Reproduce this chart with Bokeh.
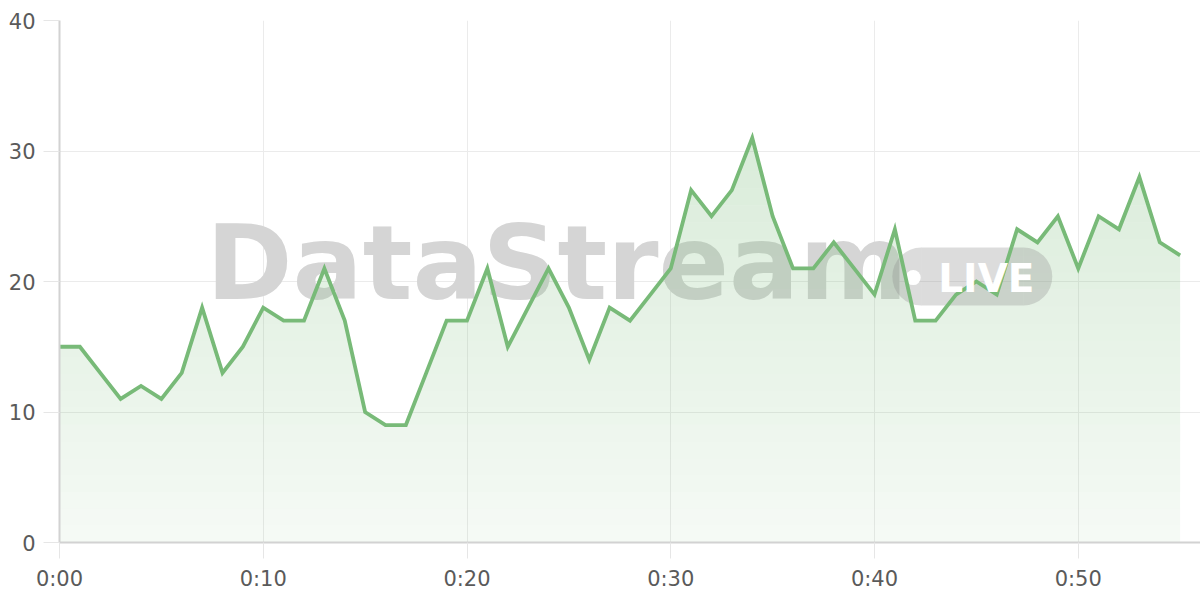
import numpy as np
from bokeh.plotting import figure
from bokeh.models import Range1d, FixedTicker, Label
from bokeh.embed import file_html
from bokeh.resources import INLINE

# ---- data ----
minutes = list(range(0, 56))
values = [15, 15, 13, 11, 12, 11, 13, 18, 13, 15,
          18, 17, 17, 21, 17, 10, 9, 9, 13, 17,
          17, 21, 15, 18, 21, 18, 14, 18, 17, 19,
          21, 27, 25, 27, 31, 25, 21, 21, 23, 21,
          19, 24, 17, 17, 19, 20, 19, 24, 23, 25,
          21, 25, 24, 28, 23, 22]
x_ticks = [0, 10, 20, 30, 40, 50]
x_tick_labels = ["0:00", "0:10", "0:20", "0:30", "0:40", "0:50"]
y_ticks = [0, 10, 20, 30, 40]
watermark_text = "DataStream"
badge_text = "LIVE"

LINE = "#78ba78"
FONT = "DejaVu Sans"

p = figure(width=1200, height=600, output_backend="svg", toolbar_location=None,
           x_range=Range1d(0, 56.0), y_range=Range1d(0, 40),
           min_border_left=59, min_border_top=20, min_border_bottom=58,
           min_border_right=0)
p.outline_line_color = None
p.background_fill_color = "white"
p.border_fill_color = "white"

# grid
p.xgrid.ticker = FixedTicker(ticks=x_ticks)
p.ygrid.ticker = FixedTicker(ticks=y_ticks)
for g in (p.xgrid, p.ygrid):
    g.grid_line_color = "#ebebeb"
    g.grid_line_width = 1

# axes
p.xaxis.ticker = FixedTicker(ticks=x_ticks)
p.xaxis.major_label_overrides = {t: l for t, l in zip(x_ticks, x_tick_labels)}
p.yaxis.ticker = FixedTicker(ticks=y_ticks)
for ax in (p.xaxis, p.yaxis):
    ax.axis_line_color = "#d2d2d2"
    ax.axis_line_width = 2
    ax.major_tick_line_color = "#e6e6e6"
    ax.major_tick_line_width = 1
    ax.major_tick_in = 0
    ax.major_tick_out = 16
    ax.minor_tick_line_color = None
    ax.major_label_text_font = FONT
    ax.major_label_text_font_size = "21px"
    ax.major_label_text_color = "#5a5a5a"
    ax.major_label_standoff = 8

# watermark (opaque light grey, underneath fill and line)
wm = Label(x=7.2, y=21.4, text=watermark_text, text_font=FONT,
           text_font_size="104px", text_font_style="bold",
           text_color="#d5d5d5", text_align="left",
           text_baseline="middle", level="underlay")
p.add_layout(wm)

# gradient-like fill under the line: non-overlapping horizontal bands
xs = np.linspace(0, 55, 55 * 20 + 1)
ys = np.interp(xs, minutes, values)
ymax = max(values)
n_bands = 24
for k in range(n_bands):
    lo = ymax * k / n_bands
    hi = ymax * (k + 1) / n_bands
    mid = (lo + hi) / 2
    a = 0.07 + 0.21 * mid / ymax
    p.varea(x=xs, y1=np.full_like(ys, lo), y2=np.clip(ys, lo, hi),
            fill_color=LINE, fill_alpha=a)

# pill: middle block + two half discs (no overlap)
pill_cx, pill_cy, pill_w, pill_h = 44.8, 20.38, 160, 58
px_per_x = 1141 / 56.0
half_inner = (pill_w - pill_h) / 2 / px_per_x
p.rect(x=[pill_cx], y=[pill_cy], width=pill_w - pill_h, height=pill_h,
       width_units="screen", height_units="screen",
       fill_color="#8c8c8c", fill_alpha=0.3, line_color=None)
p.wedge(x=[pill_cx - half_inner], y=[pill_cy], radius=pill_h / 2,
        radius_units="screen", start_angle=np.pi / 2, end_angle=3 * np.pi / 2,
        fill_color="#8c8c8c", fill_alpha=0.3, line_color=None)
p.wedge(x=[pill_cx + half_inner], y=[pill_cy], radius=pill_h / 2,
        radius_units="screen", start_angle=-np.pi / 2, end_angle=np.pi / 2,
        fill_color="#8c8c8c", fill_alpha=0.3, line_color=None)
p.scatter(x=[41.9], y=[20.3], size=15, marker="circle", fill_color="white",
          line_color=None)
live = Label(x=43.13, y=20.2, text=badge_text, text_font=FONT,
             text_font_size="39px", text_font_style="bold",
             text_color="white", text_align="left",
             text_baseline="middle", level="glyph")
p.add_layout(live)

# line
p.line(x=minutes, y=values, line_color=LINE, line_width=3.8, line_join="miter")

open("out.html", "w").write(file_html(p, INLINE))
